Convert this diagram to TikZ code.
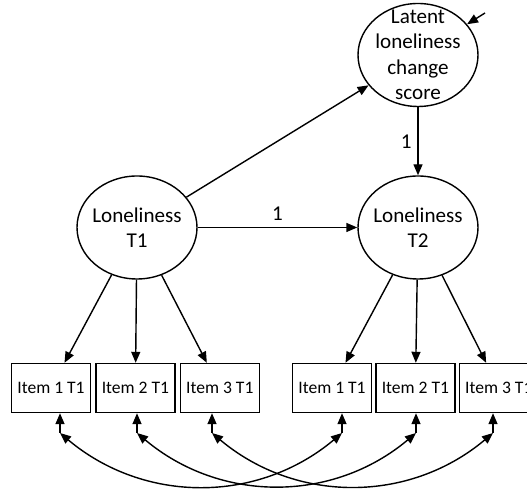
\documentclass[tikz,border=0pt]{standalone}
\usepackage{fontspec}
\setmainfont{Carlito}
\usetikzlibrary{arrows.meta,positioning,shapes.geometric}

\begin{document}
\begin{tikzpicture}[x=1cm,y=1cm,>={Triangle[length=2.2mm,width=1.8mm]},line width=0.8pt,
  factor/.style={draw,ellipse,minimum width=2.4cm,minimum height=2.06cm,inner sep=0pt},
  item/.style={draw,rectangle,minimum width=1.58cm,minimum height=0.98cm,inner sep=0pt,font=\fontsize{10}{12}\selectfont},
  lab/.style={font=\fontsize{12}{14.5}\selectfont,align=center}]
  \useasboundingbox (0,0) rectangle (10.54,9.88);
  % Latent factors
  \node[factor,label={[lab]center:Latent\\loneliness\\change\\score}] (chg) at (8.36,8.78) {};
  \node[factor,label={[lab]center:Loneliness\\T1}] (lon1) at (2.74,5.33) {};
  \node[factor,label={[lab]center:Loneliness\\T2}] (lon2) at (8.36,5.33) {};
  % Indicators
  \node[item] (i1a) at (1.02,2.12) {Item 1 T1};
  \node[item,right=0.08cm of i1a] (i2a) {Item 2 T1};
  \node[item,right=0.08cm of i2a] (i3a) {Item 3 T1};
  \node[item] (i1b) at (6.64,2.12) {Item 1 T1};
  \node[item,right=0.06cm of i1b] (i2b) {Item 2 T1};
  \node[item,right=0.06cm of i2b] (i3b) {Item 3 T1};
  % Residual points
  \coordinate (err) at (9.70,9.62);
  \coordinate (r1a) at (1.20,1.22);
  \coordinate (r2a) at (2.74,1.22);
  \coordinate (r3a) at (4.24,1.22);
  \coordinate (r1b) at (6.84,1.22);
  \coordinate (r2b) at (8.32,1.22);
  \coordinate (r3b) at (9.86,1.22);
  % Structural paths
  \draw[->] (lon1) -- (chg);
  \draw[->] (err) -- (chg);
  \draw[->] (lon1) -- node[lab,midway,above] {1} (lon2);
  \draw[->] (chg) -- node[lab,midway,left] {1} (lon2);
  % Loadings
  \foreach \i in {1,2,3} {
    \draw[->] (lon1) -- (i\i a);
    \draw[->] (lon2) -- (i\i b);
    \draw[->] (r\i a) -- (r\i a |- i\i a.south);
    \draw[->] (r\i b) -- (r\i b |- i\i b.south);
    \draw[<->] (r\i a) to[out=-40,in=-140] (r\i b);
  }
\end{tikzpicture}
\end{document}
